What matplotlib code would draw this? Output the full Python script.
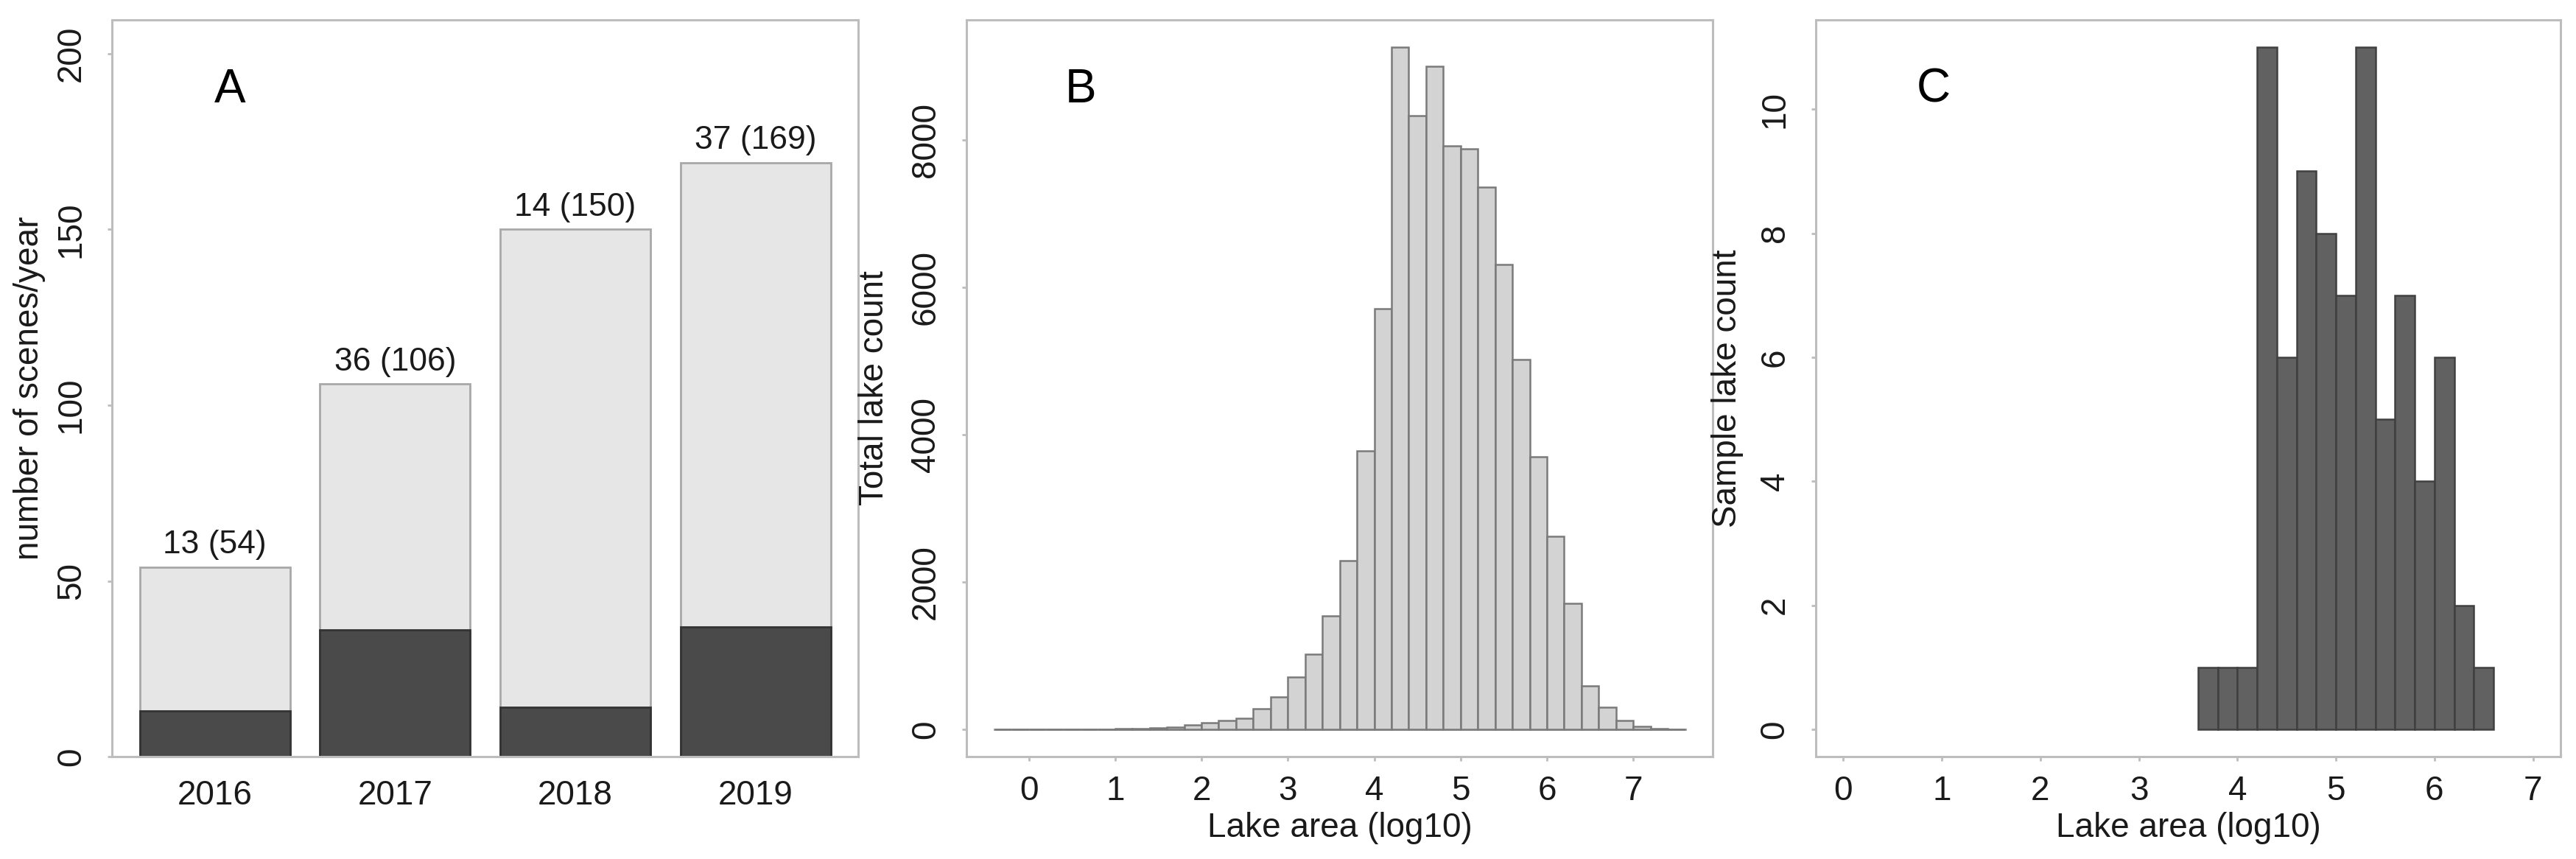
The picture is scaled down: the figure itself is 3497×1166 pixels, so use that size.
#!/usr/bin/env python3
"""Scenes per year and lake area histograms (panels A, B, C)."""

import matplotlib
matplotlib.use("Agg")
import matplotlib.pyplot as plt
import numpy as np

# Panel A: scenes per year (dark = used, light = total)
years = ["2016", "2017", "2018", "2019"]
total_scenes = [54, 106, 150, 169]
used_scenes = [13, 36, 14, 37]

# Panel B: total lake count per 0.2 log10 bin
b_edges = np.round(np.arange(-0.4, 7.61, 0.2), 2)
b_counts = [0, 0, 0, 3, 4, 5, 6, 10, 15, 22, 37, 60, 89, 119, 149, 283, 446,
            714, 1026, 1546, 2290, 3777, 5710, 9257, 8327, 8996, 7918, 7881,
            7361, 6305, 5019, 3703, 2625, 1710, 595, 297, 119, 45, 15, 0]

# Panel C: sample lake count per 0.2 log10 bin
c_edges = np.round(np.arange(3.6, 6.61, 0.2), 2)
c_counts = [1, 1, 1, 11, 6, 9, 8, 7, 11, 5, 7, 4, 6, 2, 1]

plt.rcParams.update({
    "font.family": ["Liberation Sans", "DejaVu Sans"],
    "font.size": 33,
    "axes.edgecolor": "#bdbdbd",
    "axes.linewidth": 2.2,
    "xtick.color": "#bdbdbd",
    "ytick.color": "#bdbdbd",
    "xtick.labelcolor": "#1a1a1a",
    "ytick.labelcolor": "#1a1a1a",
    "xtick.major.size": 4,
    "ytick.major.size": 4,
    "xtick.major.width": 2,
    "ytick.major.width": 2,
    "xtick.major.pad": 14,
    "ytick.major.pad": 20,
})

fig = plt.figure(figsize=(34.98, 11.66), dpi=100)
axA = fig.add_axes([0.0435, 0.119, 0.2896, 0.858])
axB = fig.add_axes([0.3751, 0.119, 0.2896, 0.858])
axC = fig.add_axes([0.7047, 0.119, 0.2890, 0.858])

# ---- Panel A
x = 0.7 + 1.2 * np.arange(len(years))
axA.bar(x, total_scenes, width=1.0, color="#e6e6e6", edgecolor="#a8a8a8", linewidth=2)
axA.bar(x, used_scenes, width=1.0, color="#4a4a4a", edgecolor="#333333", linewidth=2)
for xi, u, t in zip(x, used_scenes, total_scenes):
    axA.text(xi, t + 2, f"{u} ({t})", ha="center", va="bottom", fontsize=32, color="#1a1a1a")
axA.set_xlim(0.016, 4.984)
axA.set_ylim(0, 209.6)
axA.set_xticks(x)
axA.set_xticklabels(years)
axA.tick_params(axis="x", length=0, pad=22)
axA.set_yticks([0, 50, 100, 150, 200])
axA.set_ylabel("number of scenes/year", fontsize=33, color="#1a1a1a")
axA.yaxis.set_label_coords(-0.089, 0.5)
axA.text(0.158, 0.905, "A", transform=axA.transAxes, fontsize=46, ha="center", va="center")

# ---- Panel B
axB.hist(b_edges[:-1], bins=b_edges, weights=b_counts, color="#d3d3d3",
         edgecolor="#7a7a7a", linewidth=1.8)
axB.plot([b_edges[0], b_edges[-1]], [0, 0], color="#9a9a9a", linewidth=2, zorder=0)
axB.set_xlim(-0.72, 7.92)
axB.set_ylim(-370, 9627)
axB.set_xticks(range(0, 8))
axB.set_yticks([0, 2000, 4000, 6000, 8000])
axB.set_xlabel("Lake area (log10)", fontsize=33, color="#1a1a1a")
axB.set_ylabel("Total lake count", fontsize=33, color="#1a1a1a")
axB.yaxis.set_label_coords(-0.102, 0.5)
axB.text(0.153, 0.905, "B", transform=axB.transAxes, fontsize=46, ha="center", va="center")

# ---- Panel C
axC.hist(c_edges[:-1], bins=c_edges, weights=c_counts, color="#616161",
         edgecolor="#404040", linewidth=1.8)
axC.set_xlim(-0.28, 7.28)
axC.set_ylim(-0.44, 11.44)
axC.set_xticks(range(0, 8))
axC.set_yticks([0, 2, 4, 6, 8, 10])
axC.set_xlabel("Lake area (log10)", fontsize=33, color="#1a1a1a")
axC.set_ylabel("Sample lake count", fontsize=33, color="#1a1a1a")
axC.yaxis.set_label_coords(-0.097, 0.5)
axC.text(0.158, 0.905, "C", transform=axC.transAxes, fontsize=46, ha="center", va="center")

for ax in (axA, axB, axC):
    for lbl in ax.get_yticklabels():
        lbl.set_rotation(90)
        lbl.set_va("center")
    ax.xaxis.label.set_va("top")

axB.xaxis.labelpad = 4
axC.xaxis.labelpad = 4

fig.savefig("out.png", dpi=100)
